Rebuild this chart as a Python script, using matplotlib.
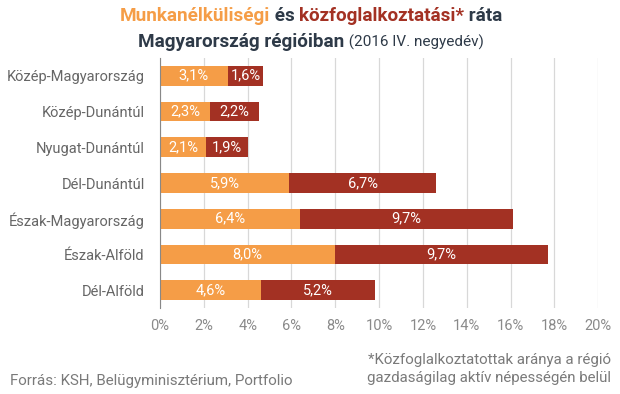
import matplotlib
matplotlib.use("Agg")
import matplotlib.pyplot as plt

plt.rcParams['font.family'] = ['Roboto', 'DejaVu Sans']

regions = ['Közép-Magyarország', 'Közép-Dunántúl', 'Nyugat-Dunántúl', 'Dél-Dunántúl',
           'Észak-Magyarország', 'Észak-Alföld', 'Dél-Alföld']
unemployment = [3.1, 2.3, 2.1, 5.9, 6.4, 8.0, 4.6]
public_work = [1.6, 2.2, 1.9, 6.7, 9.7, 9.7, 5.2]
xticks = [0, 2, 4, 6, 8, 10, 12, 14, 16, 18, 20]

orange = '#F59D47'
red = '#A33123'
dark = '#2E3A48'
gray = '#7A7A7A'

fig = plt.figure(figsize=(6.2, 3.94), dpi=100)
ax = fig.add_axes([0.258, 0.218, 0.707, 0.635])

y = list(range(len(regions)))
ax.barh(y, unemployment, height=0.55, color=orange, zorder=3)
ax.barh(y, public_work, left=unemployment, height=0.55, color=red, zorder=3)

def fmt(v):
    return f'{v:.1f}%'.replace('.', ',')

for i in y:
    ax.text(unemployment[i] / 2, i, fmt(unemployment[i]), color='white',
            ha='center', va='center', fontsize=10.5, zorder=4)
    ax.text(unemployment[i] + public_work[i] / 2, i, fmt(public_work[i]), color='white',
            ha='center', va='center', fontsize=10.5, zorder=4)

ax.set_xlim(0, 20)
ax.set_ylim(len(regions) - 0.5, -0.5)
ax.set_xticks(xticks)
ax.set_xticklabels([f'{t}%' for t in xticks], color='#8A8A8A', fontsize=10.5)
ax.set_yticks(y)
ax.set_yticklabels(regions, color='#666666', fontsize=10.5)
ax.tick_params(axis='both', length=0, pad=8)
ax.tick_params(axis='y', pad=11)
ax.grid(axis='x', color='#D8D8D8', linewidth=0.9, zorder=0)
for s in ['top', 'right', 'bottom']:
    ax.spines[s].set_visible(False)
ax.spines['left'].set_color('#888888')
ax.spines['left'].set_zorder(5)

# title built from coloured pieces
fig.canvas.draw()
renderer = fig.canvas.get_renderer()

def line(pieces, ypix):
    texts = []
    for s, c, w, fs in pieces:
        t = fig.text(0, 1 - ypix / 394, s, color=c, fontweight=w, fontsize=fs,
                     va='center', ha='left')
        texts.append(t)
    widths = [t.get_window_extent(renderer).width for t in texts]
    total = sum(widths)
    x = 311 - total / 2
    for t, w in zip(texts, widths):
        t.set_x(x / 620)
        x += w

line([('Munkanélküliségi', orange, 'bold', 13.6),
      (' és ', dark, 'bold', 13.6),
      ('közfoglalkoztatási*', red, 'bold', 13.6),
      (' ráta', dark, 'bold', 13.6)], 16)
line([('Magyarország régióiban', dark, 'bold', 13.6),
      (' (2016 IV. negyedév)', dark, 'normal', 11)], 42)

fig.text(10 / 620, 1 - 381 / 394, 'Forrás: KSH, Belügyminisztérium, Portfolio',
         color=gray, fontsize=10.9, va='center', ha='left')
fig.text(611 / 620, 1 - 369 / 394,
         '*Közfoglalkoztatottak aránya a régió\ngazdaságilag aktív népességén belül',
         color=gray, fontsize=10.8, va='center', ha='right', linespacing=1.4)

fig.savefig('out.png', dpi=100)
